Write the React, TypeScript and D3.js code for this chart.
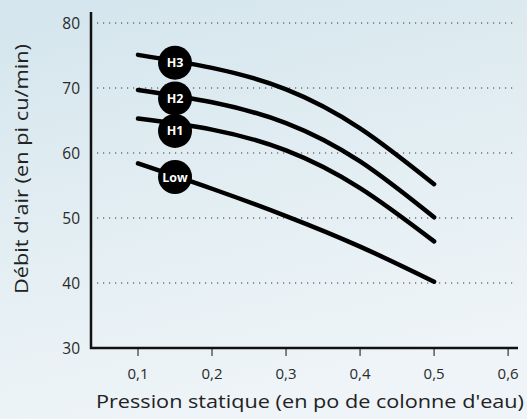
import * as d3 from "d3";
import { useEffect, useRef } from "react";

const pressures = [0.1, 0.2, 0.3, 0.4, 0.5];
const seriesNames = ["H3", "H2", "H1", "Low"];
const h3Values = [75.1, 73.1, 69.8, 63.8, 55.2];
const h2Values = [69.7, 67.8, 64.6, 58.7, 50.1];
const h1Values = [65.3, 63.6, 60.4, 54.6, 46.4];
const lowValues = [58.4, 54.5, 50.3, 45.6, 40.2];
const labelPressure = 0.15;
const labelValues = [73.9, 68.4, 63.4, 56.3];
const xTicks = [0.1, 0.2, 0.3, 0.4, 0.5, 0.6];
const yTicks = [30, 40, 50, 60, 70, 80];
const gridValues = [40, 50, 60, 70, 80];

const WIDTH = 527;
const HEIGHT = 419;

const App = () => {
  const ref = useRef<SVGSVGElement | null>(null);

  useEffect(() => {
    if (!ref.current) return;
    const svg = d3.select(ref.current);
    svg.selectAll("*").remove();

    const font = "'Open Sans', 'DejaVu Sans', sans-serif";
    const x = d3.scaleLinear().domain([0.0365, 0.612]).range([91, 517]);
    const y = d3.scaleLinear().domain([30, 80]).range([348, 23]);

    // background
    const defs = svg.append("defs");
    const grad = defs
      .append("linearGradient")
      .attr("id", "bg")
      .attr("x1", 0)
      .attr("y1", 0)
      .attr("x2", 0.3)
      .attr("y2", 1);
    grad.append("stop").attr("offset", "0%").attr("stop-color", "#d4e5ed");
    grad.append("stop").attr("offset", "55%").attr("stop-color", "#e3eef3");
    grad.append("stop").attr("offset", "100%").attr("stop-color", "#eef4f7");
    svg
      .append("rect")
      .attr("width", WIDTH)
      .attr("height", HEIGHT)
      .attr("fill", "url(#bg)");

    // grid
    svg
      .append("g")
      .selectAll("line")
      .data(gridValues)
      .join("line")
      .attr("x1", 97)
      .attr("x2", 516)
      .attr("y1", (d) => y(d))
      .attr("y2", (d) => y(d))
      .attr("stroke", "#333")
      .attr("stroke-width", 1)
      .attr("stroke-dasharray", "1.2,4.8");

    // y labels
    svg
      .append("g")
      .selectAll("text")
      .data(yTicks)
      .join("text")
      .attr("x", 80)
      .attr("y", (d) => y(d))
      .attr("dy", "0.36em")
      .attr("text-anchor", "end")
      .attr("font-family", font)
      .attr("font-size", 15.5)
      .attr("fill", "#2a2a2a")
      .text((d) => d);

    // x ticks
    const xt = svg.append("g");
    xt.selectAll("line")
      .data(xTicks)
      .join("line")
      .attr("x1", (d) => x(d))
      .attr("x2", (d) => x(d))
      .attr("y1", 348)
      .attr("y2", 356)
      .attr("stroke", "#444")
      .attr("stroke-width", 1.3);
    xt.selectAll("text")
      .data(xTicks)
      .join("text")
      .attr("x", (d) => x(d))
      .attr("y", 379)
      .attr("text-anchor", "middle")
      .attr("font-family", font)
      .attr("font-size", 15)
      .attr("fill", "#2a2a2a")
      .text((d) => d3.format(".1f")(d).replace(".", ","));

    // axes
    svg
      .append("path")
      .attr("d", `M91,12V348H518`)
      .attr("fill", "none")
      .attr("stroke", "#111")
      .attr("stroke-width", 2.5);

    // curves
    const series = [h3Values, h2Values, h1Values, lowValues];
    const line = d3
      .line<number>()
      .x((_, i) => x(pressures[i]))
      .y((d) => y(d))
      .curve(d3.curveNatural);
    svg
      .append("g")
      .selectAll("path")
      .data(series)
      .join("path")
      .attr("d", (d) => line(d))
      .attr("fill", "none")
      .attr("stroke", "#000")
      .attr("stroke-width", 4.5)
      .attr("stroke-linecap", "round");

    // labels
    const lbl = svg
      .append("g")
      .selectAll("g")
      .data(seriesNames)
      .join("g")
      .attr(
        "transform",
        (_, i) => `translate(${x(labelPressure)},${y(labelValues[i])})`
      );
    lbl.append("circle").attr("r", 17).attr("fill", "#000");
    lbl
      .append("text")
      .attr("text-anchor", "middle")
      .attr("dy", "0.36em")
      .attr("font-family", font)
      .attr("font-weight", "bold")
      .attr("font-size", 12.5)
      .attr("fill", "#fff")
      .text((d) => d);

    // axis titles
    svg
      .append("text")
      .attr("x", 310)
      .attr("y", 408)
      .attr("text-anchor", "middle")
      .attr("font-family", font)
      .attr("font-size", 18.5)
      .attr("textLength", 428)
      .attr("lengthAdjust", "spacingAndGlyphs")
      .attr("fill", "#222")
      .text("Pression statique (en po de colonne d'eau)");
    svg
      .append("text")
      .attr("transform", "translate(22,169) rotate(-90)")
      .attr("dy", "0.35em")
      .attr("text-anchor", "middle")
      .attr("font-family", font)
      .attr("font-size", 18.5)
      .attr("textLength", 250)
      .attr("lengthAdjust", "spacingAndGlyphs")
      .attr("fill", "#222")
      .text("Débit d'air (en pi cu/min)");
  }, []);

  return (
    <svg
      ref={ref}
      width={WIDTH}
      height={HEIGHT}
      style={{ position: "fixed", left: 0, top: 0 }}
    />
  );
};

export default App;
